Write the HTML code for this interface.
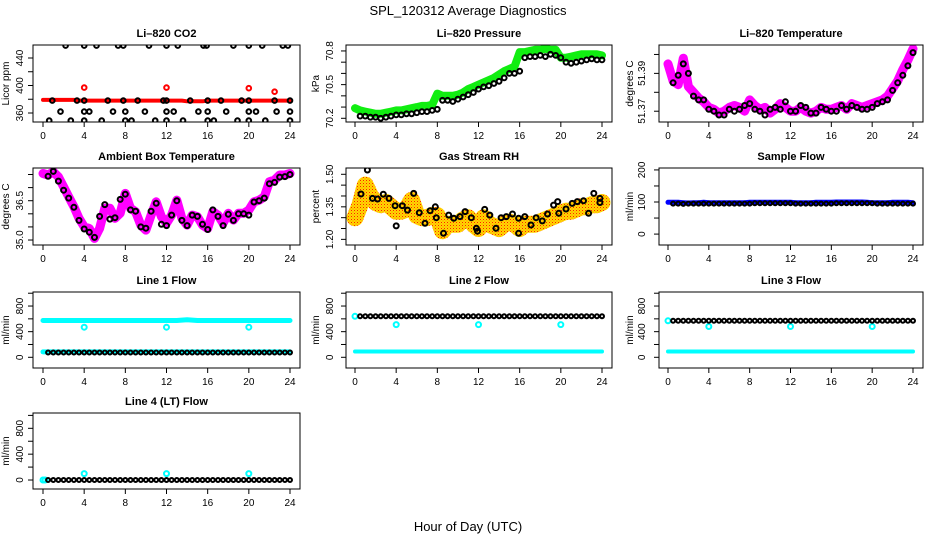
<!DOCTYPE html>
<html><head><meta charset="utf-8"><style>
html,body{margin:0;padding:0;background:#fff;}
svg{display:block;font-family:"Liberation Sans",Arial,sans-serif;}
</style></head><body>
<svg id="chart" width="936" height="540" viewBox="0 0 936 540" xmlns="http://www.w3.org/2000/svg">
<defs>
<pattern id="rhpat" width="3" height="3" patternUnits="userSpaceOnUse">
<rect width="3" height="3" fill="#ffd800"/><rect x="0" y="0" width="1" height="1" fill="#ff2000"/><rect x="1.5" y="1.5" width="1" height="1" fill="#ff8000"/>
</pattern>
</defs>
<text x="468" y="15" text-anchor="middle" font-size="13">SPL_120312  Average Diagnostics</text>
<text x="468" y="531" text-anchor="middle" font-size="13">Hour of Day (UTC)</text>
</svg>
<script>
const xTicks = [0,4,8,12,16,20,24];
const halfHours = [0,0.5,1,1.5,2,2.5,3,3.5,4,4.5,5,5.5,6,6.5,7,7.5,8,8.5,9,9.5,10,10.5,11,11.5,12,12.5,13,13.5,14,14.5,15,15.5,16,16.5,17,17.5,18,18.5,19,19.5,20,20.5,21,21.5,22,22.5,23,23.5,24];
const circleHours = [0.5,1,1.5,2,2.5,3,3.5,4,4.5,5,5.5,6,6.5,7,7.5,8,8.5,9,9.5,10,10.5,11,11.5,12,12.5,13,13.5,14,14.5,15,15.5,16,16.5,17,17.5,18,18.5,19,19.5,20,20.5,21,21.5,22,22.5,23,23.5,24];

// CO2
const co2Red = [379,379,379,379,379,379,379,378,378,378,378,378,378,378,378,378,378,378,378,378,378,378,378,378,378,378,378,378,377,377,377,377,378,378,378,378,378,378,378,378,378,378,378,378,378,378,378,378,378];
const co2RedOutHours = [4,12,20,22.5];
const co2RedOut = [397,397,396,391];
const co2BlackHours = [2.2,4,5.2,7.3,7.8,10.3,12,13.1,15.6,15.9,18.5,20,21.3,23.3,23.8, 0.9,3.3,4,6.3,7.8,9.2,11.7,12,14.3,16,17.3,19.3,20,22.5,24, 1.7,4,4.5,6.8,8,9.9,12,12.7,15.1,16,17.8,20,20.7,22.7,24, 0.6,2.7,4,5.7,8,8.6,10.9,12,13.6,16,16.6,18.9,20,21.6,24];
const co2Black = [458,458,458,458,458,458,458,458,458,458,458,458,458,458,458, 378,378,378,378,378,378,378,378,378,378,378,378,378,378,378, 362,362,362,362,362,362,362,362,362,362,362,362,362,362,362, 349,349,349,349,349,349,349,349,349,349,349,349,349,349,349];

// Pressure
const presGreen = [70.29,70.27,70.26,70.25,70.24,70.24,70.25,70.26,70.27,70.27,70.28,70.29,70.30,70.31,70.31,70.32,70.42,70.40,70.40,70.40,70.41,70.43,70.46,70.48,70.50,70.52,70.54,70.56,70.59,70.62,70.64,70.66,70.79,70.79,70.80,70.81,70.81,70.82,70.81,70.81,70.74,70.74,70.75,70.76,70.77,70.77,70.77,70.77,70.76];
const presBlack = [70.22,70.22,70.21,70.21,70.20,70.21,70.22,70.23,70.23,70.24,70.24,70.25,70.26,70.26,70.27,70.28,70.36,70.36,70.35,70.37,70.39,70.41,70.43,70.46,70.48,70.49,70.51,70.53,70.56,70.60,70.60,70.62,70.74,70.75,70.75,70.76,70.75,70.77,70.76,70.74,70.70,70.69,70.70,70.71,70.72,70.73,70.72,70.72,70.71];

// Li-820 temperature
const tempMag = [51.395,51.386,51.384,51.398,51.383,51.380,51.377,51.375,51.372,51.371,51.369,51.370,51.372,51.373,51.372,51.370,51.376,51.373,51.371,51.372,51.369,51.371,51.374,51.372,51.370,51.370,51.372,51.370,51.369,51.370,51.372,51.371,51.371,51.372,51.373,51.371,51.374,51.373,51.372,51.373,51.374,51.375,51.376,51.378,51.382,51.386,51.392,51.397,51.403];
const tempBlack = [51.385,51.389,51.395,51.390,51.378,51.376,51.376,51.371,51.370,51.368,51.368,51.371,51.370,51.371,51.373,51.374,51.371,51.370,51.368,51.371,51.372,51.371,51.375,51.370,51.370,51.373,51.372,51.369,51.369,51.372,51.371,51.370,51.370,51.373,51.371,51.373,51.372,51.371,51.371,51.372,51.374,51.375,51.376,51.381,51.385,51.389,51.394,51.401];

// Ambient box temperature
const ambMag = [37.54,37.48,37.60,37.41,37.03,36.65,36.27,35.83,35.51,35.44,35.06,35.44,36.21,36.21,35.83,36.02,36.78,36.21,36.08,35.57,35.38,35.95,36.46,35.89,35.64,35.95,36.52,35.83,35.57,35.95,35.89,35.57,35.44,36.08,35.95,35.64,36.02,35.76,36.02,36.02,36.14,36.46,36.52,36.65,37.22,37.29,37.48,37.48,37.54];
const ambBlack = [37.43,37.62,37.25,36.90,36.60,36.25,35.75,35.42,35.30,35.10,35.90,36.35,35.80,35.85,36.55,36.75,36.15,36.10,35.50,35.45,36.10,36.40,35.60,35.55,35.95,36.50,35.75,35.55,35.95,35.90,35.60,35.40,36.15,35.90,35.55,35.98,35.75,36.00,36.00,35.95,36.45,36.50,36.60,37.15,37.20,37.40,37.42,37.50];

// Gas stream RH
const rhBand = [1.30,1.36,1.45,1.40,1.37,1.36,1.37,1.35,1.33,1.33,1.34,1.38,1.31,1.30,1.30,1.31,1.31,1.24,1.27,1.27,1.27,1.29,1.30,1.27,1.25,1.30,1.27,1.26,1.25,1.27,1.28,1.27,1.25,1.27,1.27,1.27,1.28,1.29,1.30,1.31,1.32,1.33,1.33,1.34,1.35,1.35,1.36,1.36,1.37];
const rhBlackHours = [0.58,1.2,1.7,2.2,2.75,3.3,3.9,4.0,4.6,5.1,5.7,6.25,6.8,7.3,7.8,7.9,8.6,9.1,9.6,10.2,10.7,11.3,11.8,11.9,12.6,13.1,13.7,14.2,14.7,15.3,15.9,15.9,16.5,17.1,17.6,18.2,18.7,19.3,19.7,19.8,20.5,21.1,21.6,22.2,22.7,23.2,23.8,23.8];
const rhBlack = [1.409,1.52,1.389,1.386,1.408,1.389,1.355,1.262,1.355,1.335,1.412,1.323,1.274,1.332,1.35,1.30,1.228,1.312,1.297,1.305,1.328,1.30,1.251,1.238,1.338,1.312,1.251,1.30,1.305,1.317,1.297,1.228,1.305,1.266,1.30,1.285,1.317,1.358,1.374,1.32,1.34,1.366,1.374,1.378,1.32,1.412,1.389,1.37];

// Sample flow
const sampleBlue = [99,99,99,98,97,98,98,99,98,98,98,98,98,98,98,98,99,99,99,99,99,99,99,99,99,98,98,98,98,99,99,99,99,100,100,100,100,100,100,99,98,98,98,98,99,99,99,99,98];
const sampleBlack = [95,95,94,95,95,95,95,95,95,95,95,95,95,95,95,95,96,96,96,96,96,96,96,96,95,95,95,95,95,95,95,95,96,96,96,96,96,96,96,96,95,95,95,95,95,95,95,95];

// Line flows
const l1Cyan = [575,575,575,575,575,575,575,575,575,575,575,575,575,575,575,575,575,575,575,575,575,575,575,575,575,575,575,580,585,580,575,575,575,575,575,575,575,575,575,575,575,575,575,575,575,575,575,575,575];
const l1CyanLow = [85,85,85,85,85,85,85,85,85,85,85,85,85,85,85,85,85,85,85,85,85,85,85,85,85,85,85,85,85,85,85,85,85,85,85,85,85,85,85,85,85,85,85,85,85,85,85,85,85];
const l1Black = [75,75,75,75,75,75,75,75,75,75,75,75,75,75,75,75,75,75,75,75,75,75,75,75,75,75,75,75,75,75,75,75,75,75,75,75,75,75,75,75,75,75,75,75,75,75,75,75];
const spikeHours = [4,12,20];
const l1Spike = [470,470,470];
const l2CyanLow = [90,90,90,90,90,90,90,90,90,90,90,90,90,90,90,90,90,90,90,90,90,90,90,90,90,90,90,90,90,90,90,90,90,90,90,90,90,90,90,90,90,90,90,90,90,90,90,90,90];
const l2Black = [640,640,640,640,640,640,640,640,640,640,640,640,640,640,640,640,640,640,640,640,640,640,640,640,640,640,640,640,640,640,640,640,640,640,640,640,640,640,640,640,640,640,640,640,640,640,640,640];
const l2Spike = [510,510,510];
const l3CyanLow = [90,90,90,90,90,90,90,90,90,90,90,90,90,90,90,90,90,90,90,90,90,90,90,90,90,90,90,90,90,90,90,90,90,90,90,90,90,90,90,90,90,90,90,90,90,90,90,90,90];
const l3Black = [570,570,570,570,570,570,570,570,570,570,570,570,570,570,570,570,570,570,570,570,570,570,570,570,570,570,570,570,570,570,570,570,570,570,570,570,570,570,570,570,570,570,570,570,570,570,570,570];
const l3Spike = [480,480,480];
const l4Black = [0,0,0,0,0,0,0,0,0,0,0,0,0,0,0,0,0,0,0,0,0,0,0,0,0,0,0,0,0,0,0,0,0,0,0,0,0,0,0,0,0,0,0,0,0,0,0,0];
const l4Spike = [100,100,100];

const NS = 'http://www.w3.org/2000/svg';
const svg = document.getElementById('chart');
function mk(tag, attrs, parent){ const e=document.createElementNS(NS,tag); for(const k in attrs) e.setAttribute(k,attrs[k]); (parent||svg).appendChild(e); return e; }

const COLS = [{l:33,r:300,x0:43,x24:290,lab:23,tit:9},{l:346,r:612,x0:355,x24:602,lab:333,tit:319},{l:659,r:923,x0:668,x24:913,lab:645,tit:633}];
const ROWS = [{t:45,b:122},{t:168,b:245},{t:292,b:368},{t:413,b:489}];
let clipId = 0;

function panel(cfg){
  const c = COLS[cfg.col], r = ROWS[cfg.row];
  const g = mk('g',{});
  
  
  const xs = h => c.x0 + (c.x24-c.x0)*h/24;
  const ys = v => r.t + (cfg.ymax - v)/(cfg.ymax-cfg.ymin)*(r.b-r.t);
  const id = 'clip'+(clipId++);
  const cp = mk('clipPath',{id:id}, g);
  mk('rect',{x:c.l,y:r.t,width:c.r-c.l,height:r.b-r.t}, cp);
  const plot = mk('g',{'clip-path':'url(#'+id+')'}, g);
  
  
  const api = {
    band(hours, vals, color, w, nm){
      const pts = hours.map((h,i)=>xs(h).toFixed(1)+','+ys(vals[i]).toFixed(1)).join(' ');
      const p = mk('polyline',{points:pts,fill:'none',stroke:color,'stroke-width':w,'stroke-linejoin':'round','stroke-linecap':'round'}, plot);
      
      
    },
    circles(hours, vals, color, rad, nm, sw){
      const gg = mk('g',{}, plot);
      
      
      hours.forEach((h,i)=>{
        const ci = mk('circle',{cx:xs(h).toFixed(1),cy:ys(vals[i]).toFixed(1),r:rad,fill:'none',stroke:color,'stroke-width':sw||2}, gg);
        
        
      });
    }
  };
  cfg.draw(api);
  const box = mk('rect',{x:c.l,y:r.t,width:c.r-c.l,height:r.b-r.t,fill:'none',stroke:'#000','stroke-width':1}, g);
  
  
  const t = mk('text',{x:(c.l+c.r)/2,y:r.t-8,'text-anchor':'middle','font-size':11,'font-weight':'bold'}, g);
  t.textContent = cfg.title;
  
  
  const xa = mk('g',{}, g);
  
  
  mk('line',{x1:xs(0),x2:xs(24),y1:r.b,y2:r.b,stroke:'#000'}, xa);
  xTicks.forEach(v=>{
    mk('line',{x1:xs(v),x2:xs(v),y1:r.b,y2:r.b+5,stroke:'#000'}, xa);
    const tl = mk('text',{x:xs(v),y:r.b+17,'text-anchor':'middle','font-size':10}, xa);
    tl.textContent = v;
    
    
  });
  const ya = mk('g',{}, g);
  
  
  mk('line',{x1:c.l,x2:c.l,y1:ys(cfg.yticks[0]),y2:ys(cfg.yticks[cfg.yticks.length-1]),stroke:'#000'}, ya);
  cfg.yticks.forEach(v=>{
    mk('line',{x1:c.l-5,x2:c.l,y1:ys(v),y2:ys(v),stroke:'#000'}, ya);
  });
  cfg.ylabels.forEach((s,i)=>{
    const y = ys(cfg.ylabelVals[i]);
    const tl = mk('text',{x:c.lab,y:y,'text-anchor':'middle','font-size':10,transform:'rotate(-90 '+c.lab+' '+y+')'}, ya);
    tl.textContent = s;
    
    
  });
  const yc = (r.t+r.b)/2;
  const yt = mk('text',{x:c.tit,y:yc,'text-anchor':'middle','font-size':10,transform:'rotate(-90 '+c.tit+' '+yc+')'}, g);
  yt.textContent = cfg.ylab;
  
  
}

panel({name:'co2-panel',col:0,row:0,title:'Li\u2013820 CO2',ylab:'Licor ppm',ymin:346.9,ymax:458.9,
  yticks:[360,380,400,420,440],ylabels:['360','400','440'],ylabelVals:[360,400,440],
  draw(a){ a.band(halfHours,co2Red,'#ff0000',4,'co2-red-series'); a.circles(co2RedOutHours,co2RedOut,'#ff0000',2.3,'co2-red-outliers'); a.circles(co2BlackHours,co2Black,'#000',2.3,'co2-black-series'); }});
panel({name:'pressure-panel',col:1,row:0,title:'Li\u2013820 Pressure',ylab:'kPa',ymin:70.167,ymax:70.853,
  yticks:[70.2,70.3,70.4,70.5,70.6,70.7,70.8],ylabels:['70.2','70.5','70.8'],ylabelVals:[70.2,70.5,70.8],
  draw(a){ a.band(halfHours,presGreen,'#11ee11',8,'pressure-green-series'); a.circles(circleHours,presBlack,'#000',2.4,'pressure-black-series'); }});
panel({name:'li820-temp-panel',col:2,row:0,title:'Li\u2013820 Temperature',ylab:'degrees C',ymin:51.3643,ymax:51.405,
  yticks:[51.37,51.38,51.39,51.40],ylabels:['51.37','51.39'],ylabelVals:[51.37,51.39],
  draw(a){ a.band(halfHours,tempMag,'#ff00ff',9,'li820-temp-magenta-series'); a.circles(circleHours,tempBlack,'#000',2.5,'li820-temp-black-series'); }});
panel({name:'ambient-temp-panel',col:0,row:1,title:'Ambient Box Temperature',ylab:'degrees C',ymin:34.81,ymax:37.748,
  yticks:[35.0,35.5,36.0,36.5,37.0,37.5],ylabels:['35.0','36.5'],ylabelVals:[35.0,36.5],
  draw(a){ a.band(halfHours,ambMag,'#ff00ff',9,'ambient-magenta-series'); a.circles(circleHours,ambBlack,'#000',2.5,'ambient-black-series'); }});
panel({name:'rh-panel',col:1,row:1,title:'Gas Stream RH',ylab:'percent',ymin:1.174,ymax:1.529,
  yticks:[1.20,1.25,1.30,1.35,1.40,1.45,1.50],ylabels:['1.20','1.35','1.50'],ylabelVals:[1.20,1.35,1.50],
  draw(a){ a.band(halfHours,rhBand,'url(#rhpat)',17,'rh-orange-series'); a.circles(rhBlackHours,rhBlack,'#000',2.5,'rh-black-series'); }});
panel({name:'sample-flow-panel',col:2,row:1,title:'Sample Flow',ylab:'ml/min',ymin:-34,ymax:206,
  yticks:[0,50,100,150,200],ylabels:['0','100','200'],ylabelVals:[0,100,200],
  draw(a){ a.band(halfHours,sampleBlue,'#0000ff',5,'sample-flow-blue-series'); a.circles(circleHours,sampleBlack,'#000',2,'sample-flow-black-series'); }});
panel({name:'line1-flow-panel',col:0,row:2,title:'Line 1 Flow',ylab:'ml/min',ymin:-167,ymax:1019,
  yticks:[0,200,400,600,800,1000],ylabels:['0','400','800'],ylabelVals:[0,400,800],
  draw(a){ a.band(halfHours,l1Cyan,'#00ffff',5,'line1-cyan-series'); a.band(halfHours,l1CyanLow,'#00ffff',5,'line1-cyan-low-series'); a.circles(spikeHours,l1Spike,'#00ffff',2.5,'line1-cyan-spikes'); a.circles(circleHours,l1Black,'#000',2,'line1-black-series'); }});
panel({name:'line2-flow-panel',col:1,row:2,title:'Line 2 Flow',ylab:'ml/min',ymin:-167,ymax:1019,
  yticks:[0,200,400,600,800,1000],ylabels:['0','400','800'],ylabelVals:[0,400,800],
  draw(a){ a.band(halfHours,l2CyanLow,'#00ffff',4,'line2-cyan-series'); a.circles([0],[640],'#00ffff',2.5,'line2-cyan-start'); a.circles(spikeHours,l2Spike,'#00ffff',2.5,'line2-cyan-spikes'); a.circles(circleHours,l2Black,'#000',2,'line2-black-series'); }});
panel({name:'line3-flow-panel',col:2,row:2,title:'Line 3 Flow',ylab:'ml/min',ymin:-167,ymax:1019,
  yticks:[0,200,400,600,800,1000],ylabels:['0','400','800'],ylabelVals:[0,400,800],
  draw(a){ a.band(halfHours,l3CyanLow,'#00ffff',4,'line3-cyan-series'); a.circles([0],[570],'#00ffff',2.5,'line3-cyan-start'); a.circles(spikeHours,l3Spike,'#00ffff',2.5,'line3-cyan-spikes'); a.circles(circleHours,l3Black,'#000',2,'line3-black-series'); }});
panel({name:'line4-flow-panel',col:0,row:3,title:'Line 4 (LT) Flow',ylab:'ml/min',ymin:-139,ymax:1037,
  yticks:[0,200,400,600,800,1000],ylabels:['0','400','800'],ylabelVals:[0,400,800],
  draw(a){ a.circles([0,0.2],[0,0],'#00ffff',2.5,'line4-cyan-start'); a.circles(spikeHours,l4Spike,'#00ffff',2.5,'line4-cyan-spikes'); a.circles(circleHours,l4Black,'#000',2,'line4-black-series'); }});
</script>
</body></html>
